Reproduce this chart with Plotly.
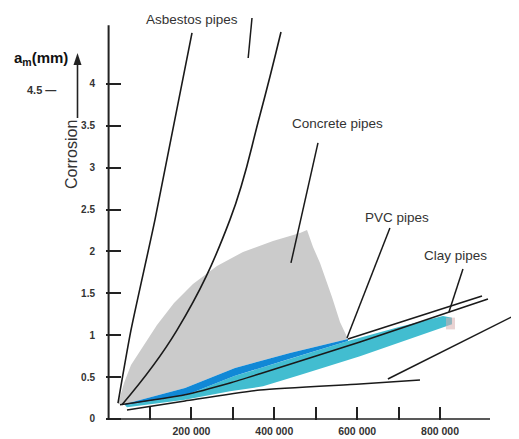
import plotly.graph_objects as go

# ---------------- data ----------------
# Curve 1 (steepest, asbestos)
asbestos_x = [22700, 54000, 112000, 201300]
asbestos_y = [0.19, 1.06, 2.38, 4.61]

# Curve 2 (concrete)
concrete_x = [32300, 165100, 293000, 365400, 416100]
concrete_y = [0.17, 1.06, 2.38, 3.63, 4.62]

# Grey envelope - upper boundary
grey_x = [22700, 37200, 54100, 83000, 116800, 157900, 203700, 261600, 324400, 396800,
          462000, 478900, 493400, 510300, 539200, 558500, 577800]
grey_y = [0.18, 0.43, 0.645, 0.872, 1.122, 1.385, 1.612, 1.827, 1.994, 2.125,
          2.221, 2.257, 2.054, 1.863, 1.457, 1.158, 0.955]

# Dark blue band (PVC) - top and bottom edges
blue_x = [39600, 184400, 305100, 437800, 577800]
blue_top = [0.179, 0.37, 0.609, 0.788, 0.955]
blue_bot = [0.165, 0.28, 0.515, 0.72, 0.93]

# Cyan band - extension of upper edge and lower edge
cyan_top_x = [703300, 807100, 828800]
cyan_top_y = [1.10, 1.23, 1.21]
cyan_bot_x = [828800, 816700, 703300, 606800, 462000, 372700, 293000, 184400, 44400]
cyan_bot_y = [1.13, 1.11, 0.92, 0.75, 0.525, 0.39, 0.33, 0.23, 0.14]

# Straight-ish lines
pvc_x = [27500, 184400, 293000, 365400, 606800, 915700]
pvc_y = [0.17, 0.29, 0.43, 0.54, 0.92, 1.433]
upper_x = [577800, 901300]
upper_y = [0.955, 1.469]
low_x = [44400, 184400, 365400, 606800, 751600]
low_y = [0.107, 0.215, 0.346, 0.418, 0.466]

# Axis ticks
x_major = [200000, 400000, 600000, 800000]
x_ticktext = ["200 000", "400 000", "600 000", "800 000"]
x_minor = [100000, 300000, 500000, 700000]
y_ticks = [0, 0.5, 1, 1.5, 2, 2.5, 3, 3.5, 4]
y_ticktext = ["0", "0.5", "1", "1.5", "2", "2.5", "3", "3.5", "4"]

labels = ["Asbestos pipes", "Concrete pipes", "PVC pipes", "Clay pipes"]

# ---------------- figure ----------------
GREY = "#cbcbcb"
BLUE = "#1188d6"
CYAN = "#42bdd0"
INK = "#1a1a1a"
TXT = "#333333"
FONT = "Liberation Sans, Arial"

# page offset (body margin) is 8 px; plot area spans page x 106..519, y 8..420
PL, PR, PT, PB = 106, 519, 8, 420


def px(xp):
    return (xp - PL) / (PR - PL)


def py(yp):
    return (PB - yp) / (PB - PT)


fig = go.Figure()

fig.add_trace(go.Scatter(
    x=grey_x + blue_x[::-1], y=grey_y + blue_top[::-1],
    fill="toself", fillcolor=GREY, mode="lines", line=dict(width=0),
    hoverinfo="skip", showlegend=False))

fig.add_trace(go.Scatter(
    x=blue_x + cyan_top_x + cyan_bot_x, y=blue_bot + cyan_top_y + cyan_bot_y,
    fill="toself", fillcolor=CYAN, mode="lines", line=dict(width=0),
    hoverinfo="skip", showlegend=False))

fig.add_trace(go.Scatter(
    x=blue_x + blue_x[::-1], y=blue_top + blue_bot[::-1],
    fill="toself", fillcolor=BLUE, mode="lines", line=dict(width=0),
    hoverinfo="skip", showlegend=False))

for xs, ys, shape, sm in [(asbestos_x, asbestos_y, "spline", 0.6),
                          (concrete_x, concrete_y, "spline", 1.2),
                          (pvc_x, pvc_y, "spline", 0.6),
                          (upper_x, upper_y, "linear", 0.6),
                          (low_x, low_y, "spline", 0.6)]:
    fig.add_trace(go.Scatter(x=xs, y=ys, mode="lines",
                             line=dict(color=INK, width=1.6, shape=shape, smoothing=sm),
                             hoverinfo="skip", showlegend=False))

# axis lines drawn as shapes
fig.add_shape(type="line", x0=0, x1=0, y0=0, y1=4.70, xref="x", yref="y",
              line=dict(color="#222222", width=2))
fig.add_shape(type="line", x0=0, x1=920600, y0=0, y1=0, xref="x", yref="y",
              line=dict(color="#222222", width=1.6))

# leader lines
leaders = [
    (346100, 4.788, 336900, 4.31),
    (505400, 3.296, 440200, 1.863),
    (679000, 2.281, 575400, 0.967),
    (855300, 1.791, 821500, 1.278),
    (992000, 1.266, 674100, 0.478),
]
for x0, y0, x1, y1 in leaders:
    fig.add_shape(type="line", x0=x0, y0=y0, x1=x1, y1=y1, xref="x", yref="y",
                  line=dict(color=INK, width=1.5))

# pinkish tip and cut-off purple mark at right edge
fig.add_shape(type="rect", x0=814400, x1=836100, y0=1.07, y1=1.21, xref="x", yref="y",
              line=dict(width=0), fillcolor="rgba(215,175,175,0.55)")
fig.add_shape(type="rect", x0=981000, x1=995000, y0=1.445, y1=1.564, xref="x", yref="y",
              line=dict(width=0), fillcolor="#3b30a0")

# curve labels
label_pos = [(201300, 4.764), (553700, 3.534), (696100, 2.40), (838500, 1.958)]
for t, (lx, ly) in zip(labels, label_pos):
    fig.add_annotation(x=lx, y=ly, xref="x", yref="y", text=t, showarrow=False,
                       xanchor="center", yanchor="middle",
                       font=dict(family=FONT, size=13.5, color=TXT))

# y-axis title pieces (page coordinates converted to paper)
fig.add_annotation(text="a<sub>m</sub>(mm)", xref="paper", yref="paper",
                   x=px(41), y=py(59), showarrow=False, xanchor="center", yanchor="middle",
                   font=dict(family=FONT, size=15, color="#111111", weight="bold"))
fig.add_annotation(text="Corrosion", xref="paper", yref="paper",
                   x=px(72), y=py(155), showarrow=False, textangle=-90,
                   xanchor="center", yanchor="middle",
                   font=dict(family=FONT, size=16, color=TXT))
fig.add_annotation(text="4.5 —", xref="paper", yref="paper",
                   x=px(41), y=py(90), showarrow=False, xanchor="center", yanchor="middle",
                   font=dict(family=FONT, size=11, color=TXT, weight="bold"))

# vertical arrow
fig.add_shape(type="line", xref="paper", yref="paper",
              x0=px(77.5), x1=px(77.5), y0=py(118), y1=py(62),
              line=dict(color="#222222", width=1.6))
fig.add_shape(type="path", xref="paper", yref="paper",
              path="M {a},{b} L {c},{d} L {e},{d} Z".format(
                  a=px(77.5), b=py(53), c=px(73.5), d=py(65), e=px(81.5)),
              fillcolor="#222222", line=dict(width=0))

fig.update_layout(
    width=511, height=431,
    margin=dict(l=98, r=0, t=0, b=19),
    paper_bgcolor="white", plot_bgcolor="white",
    showlegend=False,
    xaxis=dict(range=[-6276, 990600], showgrid=False, zeroline=False, showline=False,
               tickmode="array", tickvals=x_major, ticktext=x_ticktext,
               ticks="inside", ticklen=13, tickwidth=1.5, tickcolor="#222222",
               ticklabelstandoff=3,
               minor=dict(tickmode="array", tickvals=x_minor, ticks="inside",
                          ticklen=13, tickwidth=1.5, tickcolor="#222222", showgrid=False),
               tickfont=dict(family=FONT, size=10.5, color=TXT, weight="bold")),
    yaxis=dict(range=[-0.012, 4.907], showgrid=False, zeroline=False, showline=False,
               tickmode="array", tickvals=y_ticks, ticktext=y_ticktext,
               ticks="inside", ticklen=15, tickwidth=1.5, tickcolor="#222222",
               ticklabelstandoff=10,
               tickfont=dict(family=FONT, size=10, color=TXT, weight="bold")),
)

fig.write_html("out.html")
